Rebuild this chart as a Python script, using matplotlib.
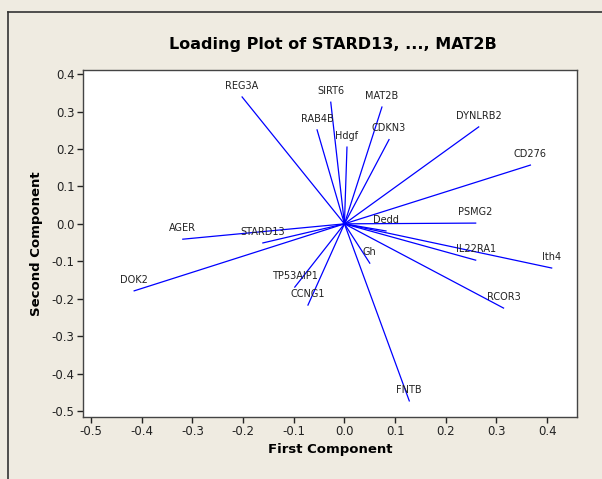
import matplotlib
matplotlib.use("Agg")
import matplotlib.pyplot as plt
from matplotlib.lines import Line2D

# loadings (first, second component)
names = ["REG3A", "SIRT6", "RAB4B", "Hdgf", "MAT2B", "CDKN3", "DYNLRB2", "CD276",
         "PSMG2", "Dedd", "IL22RA1", "Ith4", "RCOR3", "Gh", "FNTB",
         "AGER", "STARD13", "DOK2", "TP53AIP1", "CCNG1"]
pc1 = [-0.202, -0.027, -0.054, 0.005, 0.074, 0.088, 0.265, 0.367,
       0.259, 0.082, 0.259, 0.409, 0.314, 0.050, 0.128,
       -0.319, -0.161, -0.415, -0.098, -0.072]
pc2 = [0.339, 0.325, 0.251, 0.205, 0.312, 0.225, 0.259, 0.157,
       0.002, -0.019, -0.097, -0.118, -0.225, -0.105, -0.473,
       -0.041, -0.051, -0.179, -0.169, -0.217]

xticks = [-0.5, -0.4, -0.3, -0.2, -0.1, 0.0, 0.1, 0.2, 0.3, 0.4]
yticks = [0.4, 0.3, 0.2, 0.1, 0.0, -0.1, -0.2, -0.3, -0.4, -0.5]

BG = "#EFEBE1"

fig = plt.figure(figsize=(6.02, 4.79), dpi=100, facecolor=BG)
ax = fig.add_axes([83 / 602, 1 - 417 / 479, 494 / 602, 347 / 479])
ax.set_facecolor("white")

for n, x, y in zip(names, pc1, pc2):
    ax.plot([0, x], [0, y], color="#0000FF", lw=0.9)
    ax.annotate(n, (x, y), xytext=(0, 4.5), textcoords="offset points",
                ha="center", va="bottom", fontsize=7, color="#222222")

ax.set_xlim(-0.516, 0.459)
ax.set_ylim(-0.516, 0.411)
ax.set_xticks(xticks)
ax.set_yticks(yticks)
ax.set_xticklabels([f"{t:.1f}" for t in xticks])
ax.set_yticklabels([f"{t:.1f}" for t in yticks])
ax.tick_params(direction="out", length=4, width=1, labelsize=8.5, pad=2, colors="#222222")
for s in ax.spines.values():
    s.set_color("#444444")
    s.set_linewidth(1.0)

ax.set_xlabel("First Component", fontsize=9.5, fontweight="bold", labelpad=3)
ax.set_ylabel("Second Component", fontsize=9.5, fontweight="bold", labelpad=6)
fig.text(333 / 602, 1 - 45 / 479, "Loading Plot of STARD13, ..., MAT2B",
         ha="center", va="center", fontsize=11.5, fontweight="bold")

# outer frame lines (left and top)
fig.add_artist(Line2D([8 / 602, 8 / 602], [0, 1 - 12 / 479], transform=fig.transFigure,
                      color="#333333", lw=1.2))
fig.add_artist(Line2D([8 / 602, 1], [1 - 12 / 479, 1 - 12 / 479], transform=fig.transFigure,
                      color="#333333", lw=1.2))

fig.savefig("out.png", dpi=100, facecolor=BG)
